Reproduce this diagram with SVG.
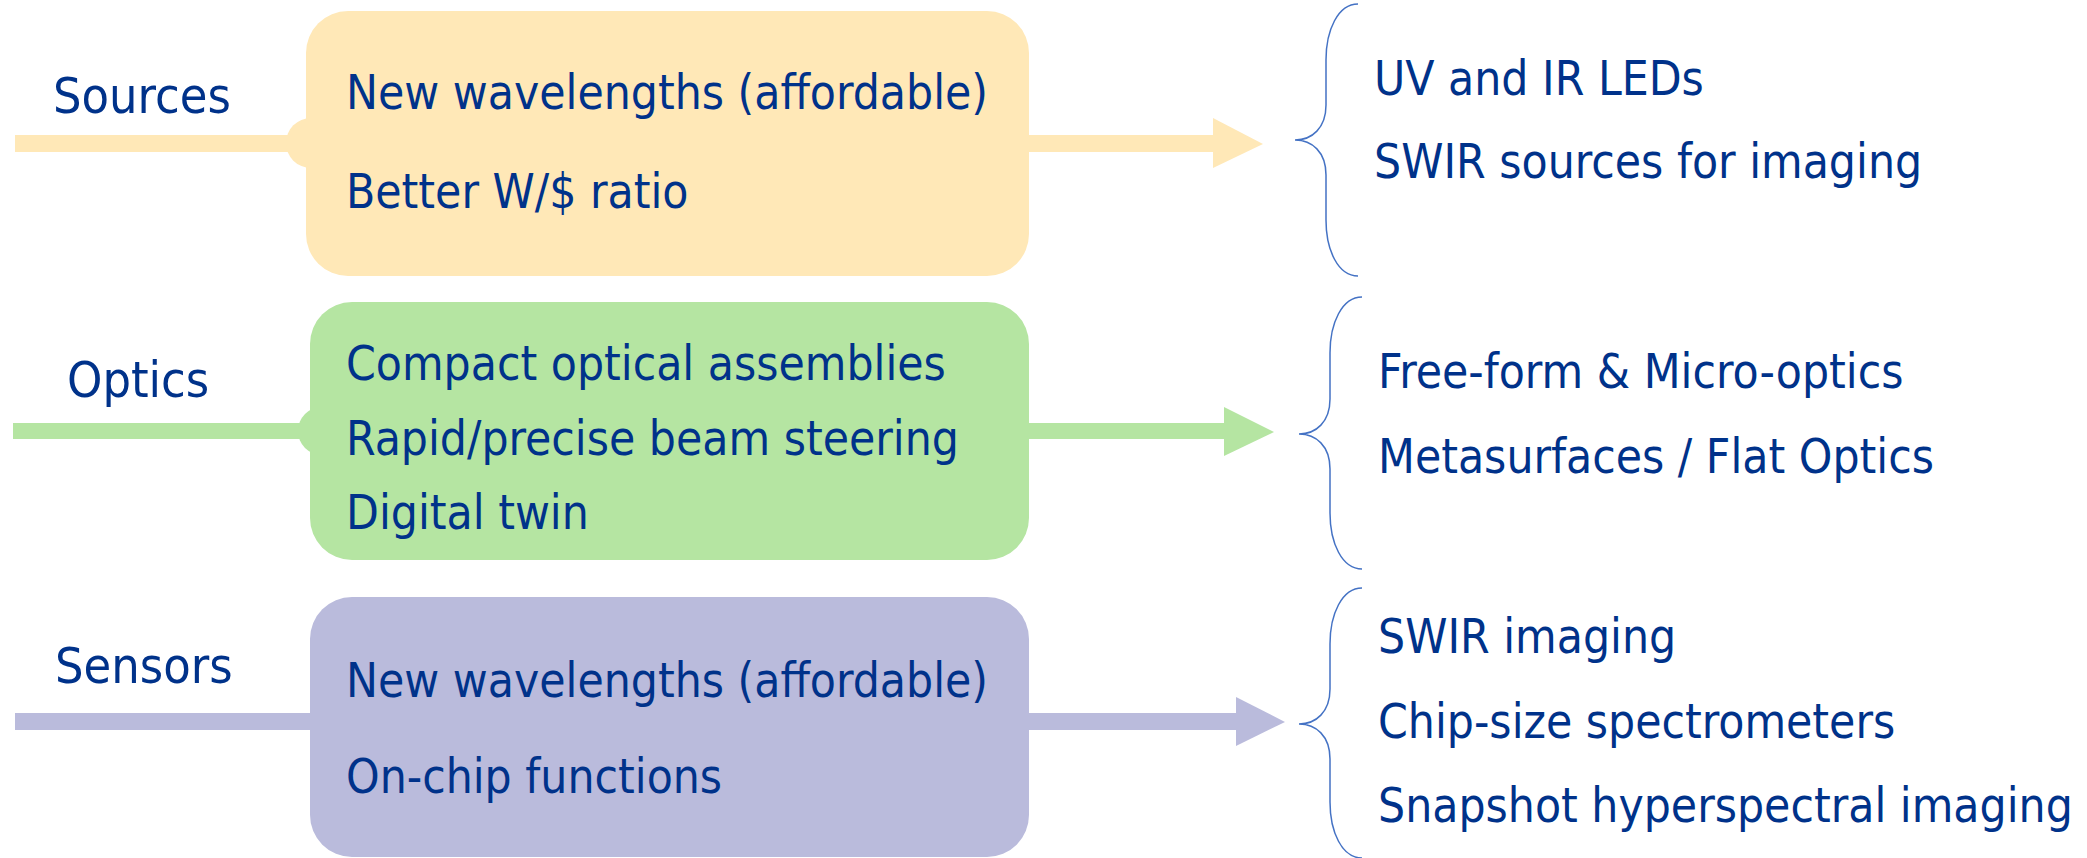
<svg xmlns="http://www.w3.org/2000/svg" width="2087" height="858" viewBox="0 0 2087 858">
<style>
text{font-family:"DejaVu Sans Condensed","DejaVu Sans",sans-serif;fill:#00328A}
.lbl{font-size:50px}
.t{font-size:47.5px}
.brace{fill:none;stroke:#4472C4;stroke-width:1.5}
.y{fill:#FFE8B7}
.g{fill:#B5E5A2}
.p{fill:#BABBDC}
</style>
<rect width="2087" height="858" fill="#ffffff"/>
<g id="connectors">
<g id="c-sources" class="y">
<rect x="15" y="135" width="1198" height="17"/>
<polygon points="1213,118 1263,144 1213,168"/>
<circle cx="311" cy="143" r="25"/>
</g>
<g id="c-optics" class="g">
<rect x="13" y="423" width="1211" height="16"/>
<polygon points="1224,407 1274,432 1224,456"/>
<circle cx="322" cy="431" r="24"/>
</g>
<g id="c-sensors" class="p">
<rect x="15" y="713" width="1221" height="17"/>
<polygon points="1236,697 1285,722 1236,746"/>
</g>
</g>
<g id="sources">
<text class="lbl" x="53" y="113">Sources</text>
<rect class="y" x="306" y="11" width="723" height="265" rx="42" ry="42"/>
<text class="t" x="346" y="109">New wavelengths (affordable)</text>
<text class="t" x="346" y="208">Better W/$ ratio</text>
</g>
<g id="optics">
<text class="lbl" x="67" y="397">Optics</text>
<rect class="g" x="310" y="302" width="719" height="258" rx="42" ry="42"/>
<text class="t" x="346" y="380">Compact optical assemblies</text>
<text class="t" x="346" y="455">Rapid/precise beam steering</text>
<text class="t" x="346" y="529">Digital twin</text>
</g>
<g id="sensors">
<text class="lbl" x="55" y="683">Sensors</text>
<rect class="p" x="310" y="597" width="719" height="260" rx="42" ry="42"/>
<text class="t" x="346" y="697">New wavelengths (affordable)</text>
<text class="t" x="346" y="793">On-chip functions</text>
</g>
<g id="sources-out">
<path class="brace" d="M1358,4 C1338,4 1326,30 1326,60 L1326,105 C1326,128 1312,140 1295,140 C1312,140 1326,152 1326,175 L1326,220 C1326,250 1338,276 1358,276"/>
<text class="t" x="1374" y="95">UV and IR LEDs</text>
<text class="t" x="1374" y="178">SWIR sources for imaging</text>
</g>
<g id="optics-out">
<path class="brace" d="M1362,297 C1342,297 1330,323 1330,353 L1330,399 C1330,422 1316,434 1299,434 C1316,434 1330,446 1330,469 L1330,513 C1330,543 1342,569 1362,569"/>
<text class="t" x="1378" y="388">Free-form &amp; Micro-optics</text>
<text class="t" x="1378" y="473">Metasurfaces / Flat Optics</text>
</g>
<g id="sensors-out">
<path class="brace" d="M1362,588 C1342,588 1330,614 1330,644 L1330,689 C1330,712 1316,724 1299,724 C1316,724 1330,736 1330,759 L1330,802 C1330,832 1342,858 1362,858"/>
<text class="t" x="1378" y="653">SWIR imaging</text>
<text class="t" x="1378" y="738">Chip-size spectrometers</text>
<text class="t" x="1378" y="822">Snapshot hyperspectral imaging</text>
</g>
</svg>
